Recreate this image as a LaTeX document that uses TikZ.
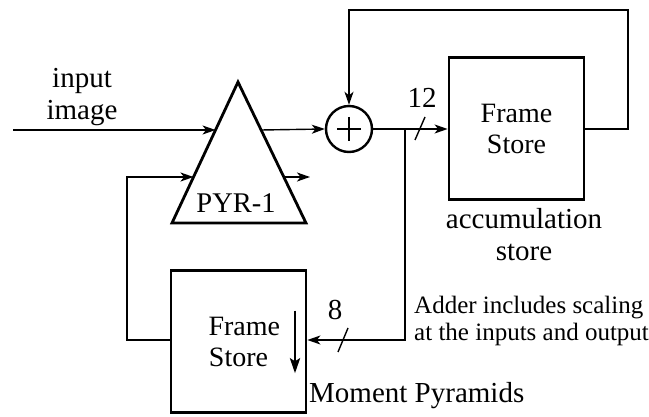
\documentclass[tikz,border=0pt]{standalone}
\usepackage{fontspec}
\setmainfont{Liberation Serif}
\usetikzlibrary{arrows.meta,calc}
\begin{document}
\begin{tikzpicture}[x=1pt,y=-1pt,
  wire/.style={line width=1.4pt},
  arr/.style={wire,-{Stealth[length=13pt,width=9pt,inset=3.5pt]}},
  block/.style={draw,line width=2.8pt,minimum width=135pt,minimum height=142pt,inner sep=0pt,
    font=\fontsize{28}{31}\selectfont,align=center},
  lbl/.style={font=\fontsize{29}{32}\selectfont,align=center,inner sep=0pt},
  note/.style={font=\fontsize{25}{27}\selectfont,align=left,inner sep=0pt,anchor=west},
  slash/.style={line width=1.4pt}]
\useasboundingbox (0,0) rectangle (649,417);

% pyramid (PYR-1) as a triangle
\coordinate (apex) at (238,82);
\coordinate (bl) at (172,223);
\coordinate (br) at (306,223);
\draw[line width=2.8pt,line join=miter] (apex) -- (bl) -- (br) -- cycle;
\node[lbl,font=\fontsize{28.5}{32}\selectfont] (pyr) at (236,203) {PYR-1};
\coordinate (pinA) at ($(apex)!0.34!(bl)$);
\coordinate (pinB) at ($(apex)!0.674!(bl)$);
\coordinate (poutA) at ($(apex)!0.34!(br)$);
\coordinate (poutB) at ($(apex)!0.674!(br)$);

% adder
\node[draw,circle,line width=2.4pt,minimum size=46pt,inner sep=0pt] (add) at (349,129) {};
\draw[line width=2.8pt] ($(add.center)+(-12,0)$) -- ($(add.center)+(12,0)$)
  ($(add.center)+(0,-12)$) -- ($(add.center)+(0,12)$);

% frame stores
\node[block] (acc) at (516.5,128.5) {Frame\\Store};
\node[block,text width=60pt] (mom) at (238.5,341.5) {Frame\\Store};
\node[draw=none,inner sep=0pt] (mtop) at (295,310) {};
\node[draw=none,inner sep=0pt] (mbot) at (295,374) {};
\draw[line width=2.8pt,-{Stealth[length=15pt,width=10pt,inset=3pt]}] (mtop) -- (mbot);

% input
\node[lbl] (inlbl) at (82,97) {input\\image};
\coordinate (src) at (13,130);
\draw[arr] (src) -- (pinA |- src);
\draw[arr] (poutA |- src) -- (add.west);

% adder to accumulation store
\draw[arr] (add.east) -- (acc.west |- add.east);
\coordinate (tap) at (405,129);
\draw[slash] (415,140) -- (425,117);
\node[lbl] (n12) at (422,98) {12};

% accumulation feedback
\coordinate (fbR) at (628,129);
\coordinate (fbT) at (628,10);
\draw[arr] (acc.east |- fbR) -- (fbR) -- (fbT) -- (fbT -| add.north) -- (add.north);

% to moment store
\coordinate (tapB) at (405,340);
\draw[arr] (tap) -- (tapB) -- (mom.east |- tapB);
\draw[slash] (338,352) -- (348,328);
\node[lbl] (n8) at (335,310) {8};

% moment store back to pyramid
\coordinate (lpB) at (127,340);
\coordinate (lpT) at (127,177);
\draw[arr] (mom.west |- lpB) -- (lpB) -- (lpT) -- (pinB |- lpT);
\coordinate (pend) at (310,177);
\draw[arr] (poutB |- pend) -- (pend);

% labels
\node[lbl] (acclbl) at (524,235) {accumulation\\store};
\node[note] (adnote) at (414,321) {Adder includes scaling\\at the inputs and output};
\node[lbl,anchor=west] (momlbl) at (309,396) {Moment Pyramids};
\end{tikzpicture}
\end{document}
